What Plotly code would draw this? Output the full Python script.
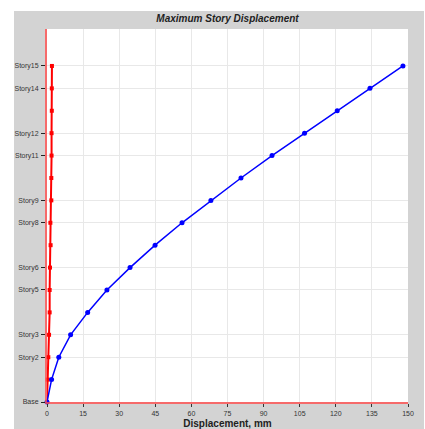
import plotly.graph_objects as go

stories = ["Base", "Story1", "Story2", "Story3", "Story4", "Story5", "Story6", "Story7",
           "Story8", "Story9", "Story10", "Story11", "Story12", "Story13", "Story14", "Story15"]
levels = list(range(16))
disp_x = [0, 1.9, 4.9, 9.8, 16.9, 24.9, 34.5, 44.9, 56.1, 68.1, 80.6, 93.5, 107.0, 120.6, 134.2, 147.9]
disp_y = [0, 0.3, 0.55, 0.85, 1.1, 1.1, 1.25, 1.5, 1.4, 1.8, 1.8, 1.9, 1.9, 2.0, 2.0, 2.05]
tick_levels = [0, 2, 3, 5, 6, 8, 9, 11, 12, 14, 15]
tick_text = [stories[i] for i in tick_levels]
x_ticks = [0, 15, 30, 45, 60, 75, 90, 105, 120, 135, 150]

W, H = 425, 429
L, R, T, B = 47, 17, 29, 27
pw, ph = W - L - R, H - T - B

fig = go.Figure()
fig.add_trace(go.Scatter(x=disp_y, y=levels, mode="lines+markers",
                         line=dict(color="#ff0000", width=2),
                         marker=dict(symbol="square", size=4, color="#ff0000"),
                         cliponaxis=False, showlegend=False))
fig.add_trace(go.Scatter(x=disp_x, y=levels, mode="lines+markers",
                         line=dict(color="#0000ff", width=1.5),
                         marker=dict(symbol="circle", size=5, color="#0000ff"),
                         cliponaxis=False, showlegend=False))

def px2paper_x(px):
    return (px - L) / pw

def px2paper_y(py):
    return (H - B - py) / ph

grey = "#d3d3d3"
gx0, gx1, gy0, gy1 = 14, 424, 11, 429
rects = [
    (gx0, gx1, gy0, T),          # top strip
    (gx0, gx1, H - B, gy1),      # bottom strip
    (gx0, L, T, H - B),          # left strip
    (W - R, gx1, T, H - B),      # right strip
]
for x0, x1, y0, y1 in rects:
    fig.add_shape(type="rect", xref="paper", yref="paper",
                  x0=px2paper_x(x0), x1=px2paper_x(x1),
                  y0=px2paper_y(y1), y1=px2paper_y(y0),
                  fillcolor=grey, line=dict(width=0), layer="below")

fig.update_layout(
    width=W, height=H,
    margin=dict(l=L, r=R, t=T, b=B),
    paper_bgcolor="white", plot_bgcolor="white",
    font=dict(family="Liberation Sans, Arial, sans-serif", color="#333"),
    title=dict(text="<b><i>Maximum Story Displacement</i></b>", x=0.5, xref="paper",
               y=1 - 18.5 / H, yanchor="middle", font=dict(size=10, color="#222")),
)
fig.update_xaxes(range=[0, 150], tickvals=x_ticks, ticktext=[str(v) for v in x_ticks],
                 showgrid=True, gridcolor="#e8e8e8", gridwidth=1, zeroline=False,
                 showline=True, linecolor="rgba(255,80,80,0.8)", linewidth=2,
                 ticks="outside", ticklen=3, tickcolor="#333", tickfont=dict(size=7),
                 ticklabelstandoff=1, automargin=False,
                 title=dict(text="<b>Displacement, mm</b>", font=dict(size=10, color="#222"),
                            standoff=5))
fig.update_yaxes(range=[0, 16.65], tickvals=tick_levels, ticktext=tick_text,
                 showgrid=True, gridcolor="#e8e8e8", gridwidth=1, zeroline=False,
                 showline=True, linecolor="rgba(255,80,80,0.8)", linewidth=2,
                 ticks="outside", ticklen=4, tickcolor="#222", tickfont=dict(size=7),
                 ticklabelstandoff=1, automargin=False)

fig.write_html("out.html", config={"displayModeBar": False},
               post_script="document.body.style.margin='0';")
